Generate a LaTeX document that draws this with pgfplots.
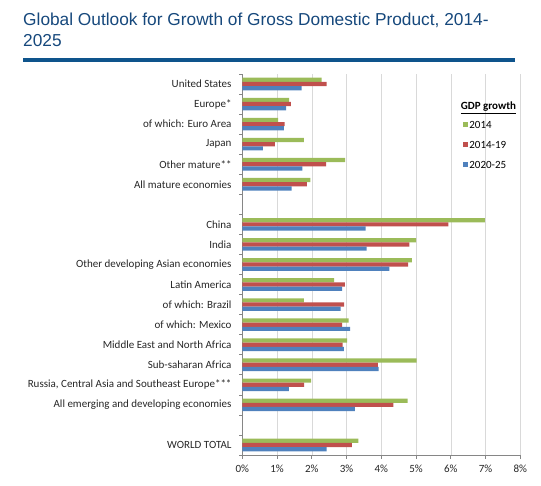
\documentclass[border=0pt]{standalone}
\usepackage{fontspec}
\setmainfont{Carlito}
\newfontfamily\titlefont{Liberation Sans}
\usepackage{pgfplots}
\pgfplotsset{compat=1.18}
\definecolor{cgreen}{RGB}{155,187,89}
\definecolor{cred}{RGB}{192,80,77}
\definecolor{cblue}{RGB}{79,129,189}
\definecolor{titlecol}{RGB}{22,72,124}
\definecolor{rulecol}{RGB}{14,84,140}
\definecolor{axgray}{RGB}{134,134,134}
\definecolor{gridgray}{RGB}{217,217,217}
\begin{document}
\begin{tikzpicture}[x=1pt,y=1pt]
\path[use as bounding box] (0,0) rectangle (541,486);
\node[anchor=base west, inner sep=0pt, text=titlecol, font=\titlefont\fontsize{17.3}{20}\selectfont] at (23,460) {Global Outlook for Growth of Gross Domestic Product, 2014-};
\node[anchor=base west, inner sep=0pt, text=titlecol, font=\titlefont\fontsize{17.3}{20}\selectfont] at (23,439.3) {2025};
\fill[rulecol] (23,423.5) rectangle (515,428);
\begin{axis}[
  at={(242.3pt,31pt)}, anchor=south west,
  scale only axis, width=278pt, height=381pt,
  xbar, bar width=4.2pt,
  xmin=0, xmax=8, ymin=-0.5, ymax=18.5,
  axis x line*=bottom, axis y line*=left,
  axis line style={axgray, line width=0.8pt},
  xmajorgrids, grid style={gridgray, line width=0.5pt},
  xtick={0,...,8},
  xticklabels={0\%,1\%,2\%,3\%,4\%,5\%,6\%,7\%,8\%},
  ytick={0,...,18},
  yticklabels={WORLD TOTAL,{},All emerging and developing economies,{Russia, Central Asia and Southeast Europe***},Sub-saharan Africa,Middle East and North Africa,of which: Mexico,of which: Brazil,Latin America,Other developing Asian economies,India,China,{},All mature economies,Other mature**,Japan,of which: Euro Area,Europe*,United States},
  minor ytick={-0.5,0.5,...,18.5},
  tick align=outside,
  major tick length=4pt, minor tick length=3pt,
  every major y tick/.append style={draw=none},
  every minor y tick/.append style={axgray, line width=0.6pt},
  every major x tick/.append style={axgray, line width=0.6pt},
  tick label style={font=\fontsize{11}{13}\selectfont, text=black!85},
  yticklabel style={anchor=east, inner sep=0pt, xshift=-6.6pt},
  xticklabel style={anchor=north, inner sep=0pt, yshift=-6pt},
  legend image code/.code={\fill[#1] (0pt,1pt) rectangle (5pt,6pt);},
  legend style={at={(rel axis cs:0.7928,0.883)}, anchor=north west, draw=none, fill=none, inner sep=0pt, column sep=0pt, row sep=6.5pt,
    nodes={inner sep=1.5pt, anchor=base west, text height=8pt, text depth=2.5pt, font=\fontsize{11}{13}\selectfont}},
  legend cell align=left,
]
\addplot[fill=cgreen, draw=none, bar shift=4.2pt] coordinates {
(3.34,0) (4.76,2) (1.98,3) (5.02,4) (3.02,5) (3.06,6) (1.77,7) (2.64,8) (4.88,9) (5.00,10) (6.98,11)
(1.96,13) (2.96,14) (1.77,15) (1.03,16) (1.35,17) (2.28,18)};
\addplot[fill=cred, draw=none, bar shift=0pt] coordinates {
(3.15,0) (4.35,2) (1.78,3) (3.90,4) (2.89,5) (2.87,6) (2.93,7) (2.95,8) (4.77,9) (4.81,10) (5.93,11)
(1.86,13) (2.41,14) (0.94,15) (1.22,16) (1.40,17) (2.43,18)};
\addplot[fill=cblue, draw=none, bar shift=-4.2pt] coordinates {
(2.43,0) (3.24,2) (1.34,3) (3.92,4) (2.92,5) (3.10,6) (2.83,7) (2.87,8) (4.23,9) (3.58,10) (3.55,11)
(1.42,13) (1.73,14) (0.59,15) (1.20,16) (1.26,17) (1.71,18)};
\legend{2014,2014-19,2020-25}
\end{axis}
\node[anchor=base west, inner sep=0pt, font=\fontsize{11}{13}\selectfont\bfseries] at (460.7,376) {\underline{GDP growth}};
\end{tikzpicture}
\end{document}
